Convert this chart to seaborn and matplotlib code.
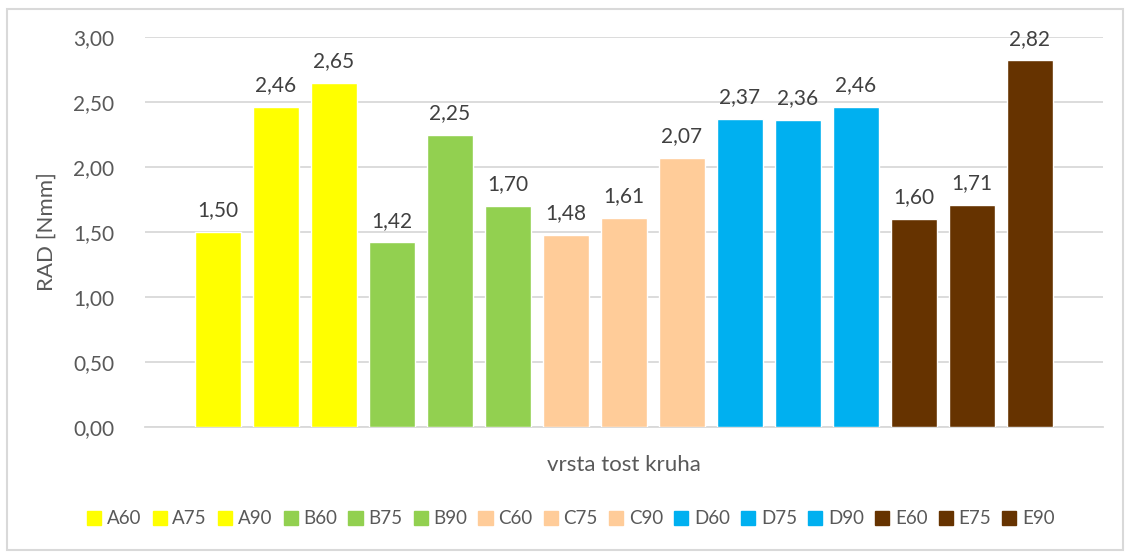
import matplotlib
matplotlib.use("Agg")
import matplotlib.pyplot as plt
import matplotlib.patches as mpatches
import matplotlib.ticker as mticker
import pandas as pd
import seaborn as sns

# data
categories = ["A60", "A75", "A90", "B60", "B75", "B90", "C60", "C75", "C90",
              "D60", "D75", "D90", "E60", "E75", "E90"]
values = [1.50, 2.46, 2.65, 1.42, 2.25, 1.70, 1.48, 1.61, 2.07,
          2.37, 2.36, 2.46, 1.60, 1.71, 2.82]
group_colors = ["#FFFF00"] * 3 + ["#92D050"] * 3 + ["#FFCC99"] * 3 + \
               ["#00B0F0"] * 3 + ["#663300"] * 3

df = pd.DataFrame({"vrsta": categories, "rad": values})

sns.set_theme(style="white")
plt.rcParams["font.family"] = ["Lato", "DejaVu Sans"]

TEXT_GRAY = "#595959"
LABEL_GRAY = "#404040"
GRID = "#D9D9D9"

fig = plt.figure(figsize=(11.26, 5.52), dpi=100)
ax = fig.add_axes([145 / 1126, 1 - 427 / 552, (1103 - 145) / 1126, 390 / 552])

sns.barplot(data=df, x="vrsta", y="rad", hue="vrsta", palette=group_colors,
            dodge=False, legend=False, width=0.79, saturation=1,
            ax=ax, zorder=3)

for i, v in enumerate(values):
    ax.text(i, v + 0.09, f"{v:.2f}".replace(".", ","), ha="center", va="bottom",
            fontsize=15, color=LABEL_GRAY)

ax.set_ylim(0, 3)
ax.set_xlim(-1.26, len(categories) - 1 + 1.26)
ax.yaxis.set_major_locator(mticker.MultipleLocator(0.5))
ax.yaxis.set_major_formatter(mticker.FuncFormatter(lambda y, _: f"{y:.2f}".replace(".", ",")))
ax.grid(axis="y", color=GRID, linewidth=1.3, zorder=0)
ax.set_xticks([])
ax.tick_params(axis="y", labelsize=15, colors=TEXT_GRAY, length=0, pad=22)
for s in ["top", "right", "left"]:
    ax.spines[s].set_visible(False)
ax.spines["bottom"].set_color(GRID)
ax.spines["bottom"].set_linewidth(1.3)

ax.set_xlabel("vrsta tost kruha", fontsize=16, color=TEXT_GRAY, labelpad=20)
ax.set_ylabel("RAD [Nmm]", fontsize=16, color=TEXT_GRAY, labelpad=12)

handles = [mpatches.Patch(color=c, label=n) for n, c in zip(categories, group_colors)]
fig.legend(handles=handles, loc="center", bbox_to_anchor=(0.507, 1 - 519 / 552),
           ncol=len(categories), frameon=False, fontsize=13.5, labelcolor=TEXT_GRAY,
           handlelength=0.75, handleheight=0.75, handletextpad=0.3, columnspacing=0.6)

# chart border
fig.patches.append(mpatches.Rectangle((7 / 1126, 2 / 552), 1116 / 1126, 541 / 552,
                                      transform=fig.transFigure, fill=False,
                                      edgecolor=GRID, linewidth=1.5))

fig.savefig("out.png", dpi=100)
